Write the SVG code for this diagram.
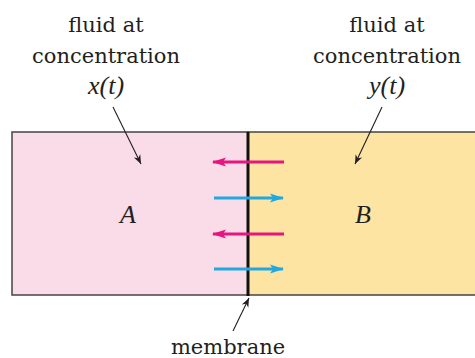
<svg xmlns="http://www.w3.org/2000/svg" width="475" height="358" viewBox="0 0 475 358">
<style>
.lbl{font-family:"DejaVu Serif","Liberation Serif",serif;font-size:21px;fill:#231f20;text-anchor:middle}
.it{font-family:"Liberation Serif",serif;font-style:italic;font-size:26px;fill:#231f20;text-anchor:middle}
.lead{stroke:#231f20;stroke-width:1.1;fill:none}
.pk{stroke:#e6157f;stroke-width:3;fill:none}
.bl{stroke:#22a8e0;stroke-width:3;fill:none}
</style>
<defs>
<marker id="ah" viewBox="0 0 10 10" refX="10" refY="5" markerWidth="9" markerHeight="9" markerUnits="userSpaceOnUse" orient="auto"><path d="M0,1 L10,5 L0,9 L3,5 Z" fill="#231f20"/></marker>
<marker id="ap" viewBox="0 0 14 10" refX="13" refY="5" markerWidth="14" markerHeight="10" markerUnits="userSpaceOnUse" orient="auto"><path d="M0,0.5 L14,5 L0,9.5 L3,5 Z" fill="#e6157f"/></marker>
<marker id="ab" viewBox="0 0 14 10" refX="13" refY="5" markerWidth="14" markerHeight="10" markerUnits="userSpaceOnUse" orient="auto"><path d="M0,0.5 L14,5 L0,9.5 L3,5 Z" fill="#22a8e0"/></marker>
</defs>
<g id="tankA">
<rect x="12" y="132" width="236" height="163" fill="#fadbe8" stroke="#444" stroke-width="1.5"/>
<text class="it" x="128" y="223">A</text>
</g>
<g id="tankB">
<rect x="248" y="132" width="240" height="163" fill="#fde4a3" stroke="#444" stroke-width="1.5"/>
<text class="it" x="363" y="223">B</text>
</g>
<g id="membrane">
<line x1="248" y1="132" x2="248" y2="296" stroke="#111" stroke-width="3"/>
</g>
<g id="labelA">
<text class="lbl" x="106" y="32">fluid at</text>
<text class="lbl" x="106" y="63">concentration</text>
<text class="it" x="106" y="94">x(t)</text>
</g>
<g id="labelB">
<text class="lbl" x="387" y="32">fluid at</text>
<text class="lbl" x="387" y="63">concentration</text>
<text class="it" x="387" y="94">y(t)</text>
</g>
<g id="labelM">
<text class="lbl" x="228" y="354">membrane</text>
</g>
<g id="connectors">
<line class="lead" x1="113" y1="107" x2="141" y2="164" marker-end="url(#ah)"/>
<line class="lead" x1="382" y1="107" x2="355" y2="164" marker-end="url(#ah)"/>
<line class="lead" x1="233" y1="331" x2="249" y2="298" marker-end="url(#ah)"/>
<line class="pk" x1="284" y1="162" x2="213" y2="162" marker-end="url(#ap)"/>
<line class="bl" x1="214" y1="198" x2="283" y2="198" marker-end="url(#ab)"/>
<line class="pk" x1="284" y1="234" x2="213" y2="234" marker-end="url(#ap)"/>
<line class="bl" x1="214" y1="269" x2="283" y2="269" marker-end="url(#ab)"/>
</g>
</svg>
